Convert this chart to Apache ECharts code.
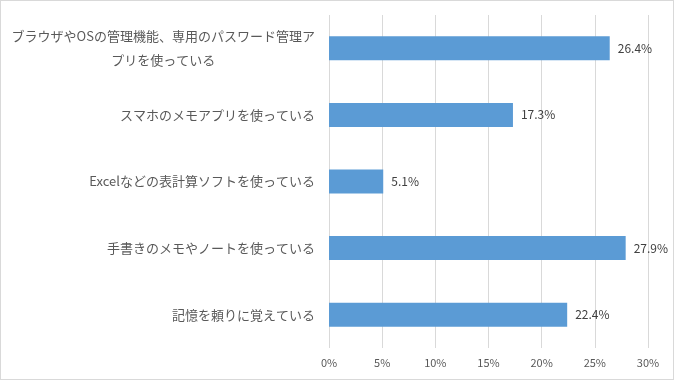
<!DOCTYPE html>
<html><head><meta charset="utf-8">
<script src="https://cdn.jsdelivr.net/npm/echarts@6/dist/echarts.min.js"></script>
<style>
html,body{margin:0;padding:0;background:#fff;}
#c{width:674px;height:380px;box-sizing:border-box;border:1px solid #d9d9d9;}
</style></head>
<body><div id="c"></div>
<script>
const categories = [
  'ブラウザやOSの管理機能、専用のパスワード管理ア\nプリを使っている',
  'スマホのメモアプリを使っている',
  'Excelなどの表計算ソフトを使っている',
  '手書きのメモやノートを使っている',
  '記憶を頼りに覚えている'
];
const values = [26.4, 17.3, 5.1, 27.9, 22.4];
const xMin = 0, xMax = 30, xStep = 5;

const chart = echarts.init(document.getElementById('c'));
const font = '"Noto Sans CJK JP","Noto Sans",sans-serif';
chart.setOption({
  animation: false,
  grid: {left: 328, right: 25, top: 14, bottom: 31, containLabel: false},
  xAxis: {
    type: 'value', min: xMin, max: xMax, interval: xStep,
    axisLine: {show: false}, axisTick: {show: false},
    splitLine: {lineStyle: {color: '#d9d9d9', width: 1}},
    axisLabel: {formatter: v => v + '%', color: '#595959', fontSize: 11, fontFamily: font, margin: 9}
  },
  yAxis: {
    type: 'category', data: categories, inverse: true,
    axisLine: {show: false}, axisTick: {show: false},
    axisLabel: {
      color: '#595959', fontSize: 13, fontFamily: font, margin: 14, lineHeight: 24,
      formatter: function (v) {
        const parts = v.split('\n');
        if (parts.length === 1) return v;
        return '{a|' + parts[0] + '}\n{b|' + parts[1] + '}';
      },
      rich: {
        a: {color: '#595959', fontSize: 13, fontFamily: font, lineHeight: 24},
        b: {color: '#595959', fontSize: 13, fontFamily: font, lineHeight: 24, align: 'center'}
      }
    }
  },
  series: [{
    type: 'bar', data: values, barWidth: 24,
    itemStyle: {color: '#5b9bd5'},
    label: {show: true, position: 'right', distance: 8, formatter: p => p.value.toFixed(1) + '%',
      color: '#404040', fontSize: 12, fontFamily: font}
  }]
});
</script></body></html>
